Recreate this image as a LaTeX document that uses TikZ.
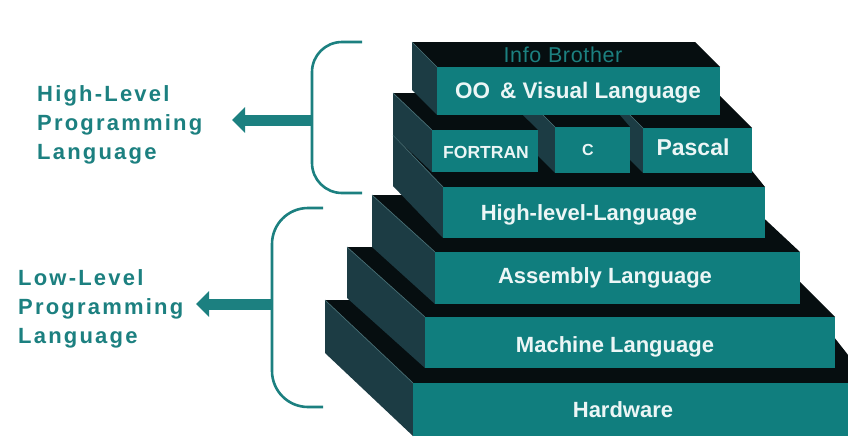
\documentclass[tikz,border=0pt]{standalone}
\usepackage{fontspec}
\setmainfont{Liberation Sans}
\newfontfamily\lblfont[LetterSpace=10]{Liberation Sans}
\newfontfamily\ibfont[LetterSpace=3]{Liberation Sans}
\usetikzlibrary{arrows.meta}
\definecolor{tealf}{RGB}{16,126,126}
\definecolor{sidec}{RGB}{28,60,68}
\definecolor{topc}{RGB}{6,14,16}
\definecolor{edgec}{RGB}{70,110,116}
\definecolor{lblc}{RGB}{28,128,128}
\definecolor{ftext}{RGB}{236,246,246}
% #1=L #2=T #3=R #4=B #5=back-left x #6=back y #7=back-right x
\newcommand{\slab}[7]{%
  \fill[sidec] (#1,#2) -- (#5,#6) -- (#5,{#6+#4-#2}) -- (#1,#4) -- cycle;
  \fill[topc] (#1,#2) -- (#5,#6) -- (#7,#6) -- (#3,#2) -- cycle;
  \draw[edgec, line width=0.7pt] (#5,#6) -- (#1,#2);
  \fill[tealf] (#1,#2) rectangle (#3,#4);
}
\tikzset{
  slabtxt/.style={text=ftext, font=\bfseries\fontsize{22}{25}\selectfont, anchor=base, inner sep=0pt},
  lbltxt/.style={text=lblc, font={\lblfont\bfseries\fontsize{22}{26}\selectfont}, anchor=base west, inner sep=0pt},
  brk/.style={draw=lblc, line width=2.6pt},
  arr/.style={draw=lblc, line width=11pt, -{Triangle[length=13pt,width=25pt]}},
}
\begin{document}
\begin{tikzpicture}[x=1pt,y=-1pt]
\useasboundingbox (0,0) rectangle (848,437);
\fill[white] (0,0) rectangle (848,437);
\begin{scope}
\clip (0,0) rectangle (848,437);
\slab{413}{383}{870}{436}{325}{300}{805}
\slab{425}{317}{835}{368}{347}{247}{765}
\slab{435}{252}{800}{304}{372}{195}{739}
\slab{443}{187}{765}{238}{393}{135}{723}
\slab{643}{128}{752}{173}{608}{93}{717}
\slab{555}{127}{630}{173}{520}{92}{600}
\slab{432}{130}{538}{172}{393}{93}{500}
\slab{437}{67}{720}{115}{412}{42}{695}
\end{scope}
% slab texts
\node[text=lblc, font={\ibfont\fontsize{21.5}{24}\selectfont}, anchor=base, inner sep=0pt] (ib) at (563,62) {Info Brother};
\node[slabtxt, font=\bfseries\fontsize{22.5}{25}\selectfont] (oo) at (578,98) {OO\hspace{10pt}\& Visual Language};
\node[slabtxt, font=\bfseries\fontsize{17.5}{20}\selectfont] (ft) at (486,158) {FORTRAN};
\node[slabtxt, font=\bfseries\fontsize{16}{18}\selectfont] (cc) at (588,155) {C};
\node[slabtxt, font=\bfseries\fontsize{23}{25}\selectfont] (pa) at (693,155) {Pascal};
\node[slabtxt] (hll) at (589,220) {High-level-Language};
\node[slabtxt] (al) at (605,283) {Assembly Language};
\node[slabtxt] (ml) at (615,352) {Machine Language};
\node[slabtxt] (hw) at (623,417) {Hardware};
% left labels
\node[lbltxt] (h1) at (37,101) {High-Level};
\node[lbltxt] (h2) at (37,130) {Programming};
\node[lbltxt] (h3) at (37,159) {Language};
\node[lbltxt] (l1) at (18,285) {Low-Level};
\node[lbltxt] (l2) at (18,314) {Programming};
\node[lbltxt] (l3) at (18,343) {Language};
% brackets
\coordinate (hbtop) at (362,42);
\coordinate (hbmid) at (312,120);
\coordinate (hbbot) at (362,193);
\draw[brk, rounded corners=30pt] (hbtop) -| (hbmid) |- (hbbot);
\coordinate (lbtop) at (323,208);
\coordinate (lbmid) at (272,304);
\coordinate (lbbot) at (323,407);
\draw[brk, rounded corners=36pt] (lbtop) -| (lbmid) |- (lbbot);
% arrows
\coordinate (htip) at (232,120);
\coordinate (ltip) at (196,304);
\draw[arr] (hbmid) -- (htip);
\draw[arr] (lbmid) -- (ltip);
\end{tikzpicture}
\end{document}
